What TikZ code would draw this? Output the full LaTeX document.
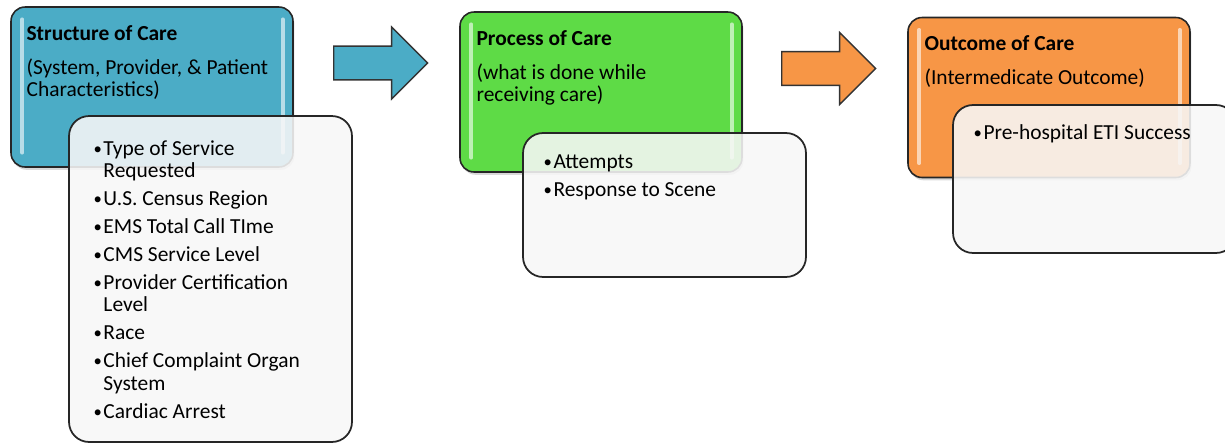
\documentclass[tikz,border=0pt]{standalone}
\usepackage{fontspec}
\setmainfont{Carlito}
\usetikzlibrary{shapes.arrows, shadows, positioning}
\definecolor{aqua}{HTML}{4BACC6}
\definecolor{leaf}{HTML}{5EDB46}
\definecolor{tangerine}{HTML}{F79646}
\tikzset{
    stage/.style={draw=black!85, line width=0.9pt, rounded corners=0.28cm, minimum width=5.64cm, minimum height=3.2cm, inner sep=0pt, drop shadow={opacity=0.3, shadow xshift=0.8pt, shadow yshift=-1.6pt}},
    detail/.style={draw=black!85, line width=1pt, rounded corners=0.4cm, fill=white!97!black, fill opacity=0.88, minimum width=5.66cm, inner sep=0pt},
    gloss/.style={white, line width=2pt, opacity=0.6, line cap=round},
    flow/.style={single arrow, anchor=tail, draw=black!80, line width=0.8pt, minimum height=1.88cm, minimum width=1.44cm, single arrow head extend=0.27cm, inner xsep=0pt, inner ysep=0.225cm},
    heading/.style={anchor=north west, align=left, inner sep=0pt, font=\fontsize{12.2}{12.6}\selectfont},
    items/.style={anchor=north west, align=left, inner sep=0pt, font=\fontsize{12.2}{12.8}\selectfont},
}
\newcommand{\bul}{\makebox[0.2cm][l]{\raisebox{0.6pt}{\fontsize{9.5}{9.5}\selectfont\textbullet}}}

\begin{document}
\begin{tikzpicture}[x=0.02cm, y=-0.02cm]
\clip (0,0) rectangle (1225,444);
% Structure of Care
\node[stage, fill=aqua] (structure) at (152,87) {};
\draw[gloss] ([shift={(12,13)}]structure.north west) -- ([shift={(12,-15)}]structure.south west);
\draw[gloss] ([shift={(-11,13)}]structure.north east) -- ([shift={(-11,-15)}]structure.south east);
\node[heading] (structuretitle) at ([shift={(16,18)}]structure.north west) {\strut\textbf{Structure of Care}\\[5.8pt](System, Provider, \& Patient\\Characteristics)};
\node[detail, minimum height=6.52cm] (structurelist) at (210.5,279) {};
\node[items] (structureitems) at ([shift={(25,24)}]structurelist.north west) {\strut\bul Type of Service\\\hspace*{0.2cm}Requested\\[3.1pt]
\bul U.S. Census Region\\[3.1pt]
\bul EMS Total Call TIme\\[3.1pt]
\bul CMS Service Level\\[3.1pt]
\bul Provider Certification\\\hspace*{0.2cm}Level\\[3.1pt]
\bul Race\\[3.1pt]
\bul Chief Complaint Organ\\\hspace*{0.2cm}System\\[3.1pt]
\bul Cardiac Arrest};
% arrow 1
\node[flow, fill=aqua] (toprocess) at (333,63) {};
% Process of Care
\node[stage, fill=leaf] (process) at (601,92) {};
\draw[gloss] ([shift={(12,13)}]process.north west) -- ([shift={(12,-15)}]process.south west);
\draw[gloss] ([shift={(-11,13)}]process.north east) -- ([shift={(-11,-15)}]process.south east);
\node[heading] (processtitle) at ([shift={(17,18)}]process.north west) {\strut\textbf{Process of Care}\\[5.8pt](what is done while\\receiving care)};
\node[detail, minimum height=2.88cm] (processlist) at (664.5,205) {};
\node[items] (processitems) at ([shift={(21,20)}]processlist.north west) {\strut\bul Attempts\\[3.1pt]
\bul Response to Scene};
% arrow 2
\node[flow, fill=tangerine] (tooutcome) at (781,68.5) {};
% Outcome of Care
\node[stage, fill=tangerine] (outcome) at (1049,97.5) {};
\draw[gloss] ([shift={(12,13)}]outcome.north west) -- ([shift={(12,-15)}]outcome.south west);
\draw[gloss] ([shift={(-11,13)}]outcome.north east) -- ([shift={(-11,-15)}]outcome.south east);
\node[heading] (outcometitle) at ([shift={(17,18)}]outcome.north west) {\strut\textbf{Outcome of Care}\\[5.8pt](Intermedicate Outcome)};
\node[detail, minimum height=2.96cm] (outcomelist) at (1094.5,179) {};
\node[items] (outcomeitems) at ([shift={(21,19)}]outcomelist.north west) {\strut\bul Pre-hospital ETI Success};
\end{tikzpicture}
\end{document}
